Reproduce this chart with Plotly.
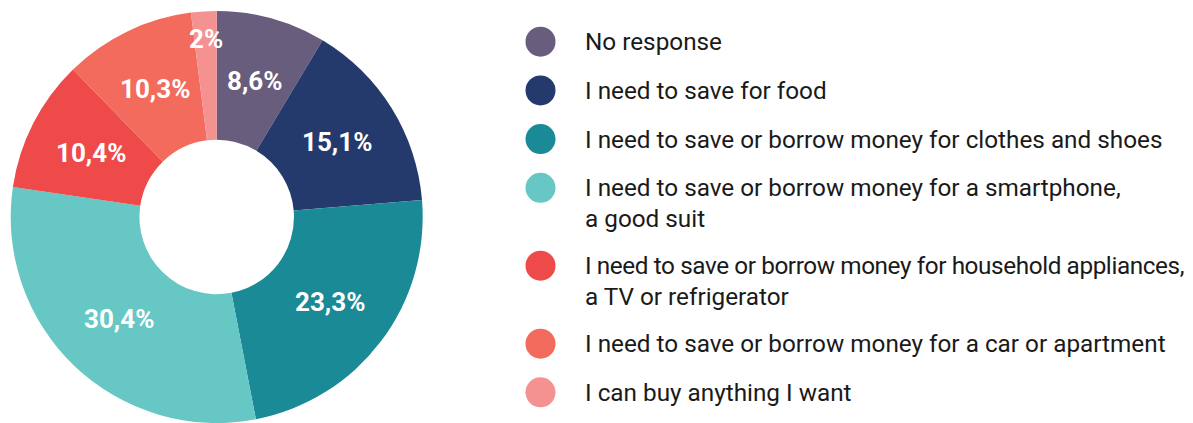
import math
import plotly.graph_objects as go

# Survey answers, shares in percent, slice colours
categories = [
    "No response",
    "I need to save for food",
    "I need to save or borrow money for clothes and shoes",
    "I need to save or borrow money for a smartphone,<br>a good suit",
    "I need to save or borrow money for household appliances,<br>a TV or refrigerator",
    "I need to save or borrow money for a car or apartment",
    "I can buy anything I want",
]
shares = [8.6, 15.1, 23.3, 30.4, 10.4, 10.3, 2.0]
colors = ["#685d7d", "#243a6c", "#1a8a96", "#66c7c4", "#ee4a4a", "#f26b5c", "#f49292"]

W, H = 1193, 423
FONT = "Roboto"
HOLE = 0.375


def pct(v):
    return f"{v:g}".replace(".", ",") + "%"


# donut geometry (pixels)
cx, cy, R = 216.7, 217.0, 206.0
dom_x = [(cx - R) / W, (cx + R) / W]
dom_y = [1 - (cy + R) / H, 1 - (cy - R) / H]

fig = go.Figure()

fig.add_trace(go.Pie(
    values=shares,
    labels=categories,
    text=[pct(v) for v in shares],
    textinfo="none",
    marker=dict(colors=colors, line=dict(width=0)),
    hole=HOLE,
    sort=False,
    direction="clockwise",
    rotation=0,
    domain=dict(x=dom_x, y=dom_y),
    showlegend=False,
    hoverinfo="label+text",
))

# value labels on the bisector of each slice, mid-ring; the thinnest slice
# gets its label nearer the rim
total = sum(shares)
annotations = []
acc = 0.0
for v in shares:
    mid = (acc + v / 2) / total * 2 * math.pi
    acc += v
    r_lab = 0.865 * R if v / total < 0.03 else (HOLE * R + R) / 2
    lx = cx + r_lab * math.sin(mid)
    ly = cy - r_lab * math.cos(mid)
    annotations.append(dict(
        x=lx / W, y=1 - ly / H, xref="paper", yref="paper",
        text=pct(v), showarrow=False,
        font=dict(family=FONT, size=26, color="white", weight="bold"),
        xanchor="center", yanchor="middle",
    ))

# custom legend: rows measured in item units, two-line items take extra space
rows = []
pos = 0.0
for lab in categories:
    rows.append(pos)
    pos += 1 + 0.6 * lab.count("<br>")

ROW_PX = 48.7
TOP_PX = 41.7
MARK_X = 540.5
TEXT_X = 583.0

fig.add_trace(go.Scatter(
    x=[MARK_X] * len(categories), y=rows, mode="markers",
    marker=dict(size=30, color=colors, line=dict(width=0)),
    showlegend=False, hoverinfo="skip",
))

for i, lab in enumerate(categories):
    for k, line in enumerate(lab.split("<br>")):
        if len(line) > 54:
            # tighten very long lines so they stay inside the page
            line = f'<span style="letter-spacing:-0.4px">{line}</span>'
        annotations.append(dict(
            x=TEXT_X, y=rows[i] + 0.64 * k, xref="x", yref="y",
            text=line, showarrow=False, xanchor="left", yanchor="middle",
            font=dict(family=FONT, size=24.3, color="#1a1a1a"),
        ))

fig.update_layout(
    width=W, height=H,
    margin=dict(l=0, r=0, t=0, b=0),
    paper_bgcolor="white", plot_bgcolor="white",
    xaxis=dict(range=[0, W], domain=[0, 1], visible=False, fixedrange=True),
    yaxis=dict(range=[(H - TOP_PX) / ROW_PX, -TOP_PX / ROW_PX], domain=[0, 1],
               visible=False, fixedrange=True),
    annotations=annotations,
    showlegend=False,
)

fig.write_html("out.html")
